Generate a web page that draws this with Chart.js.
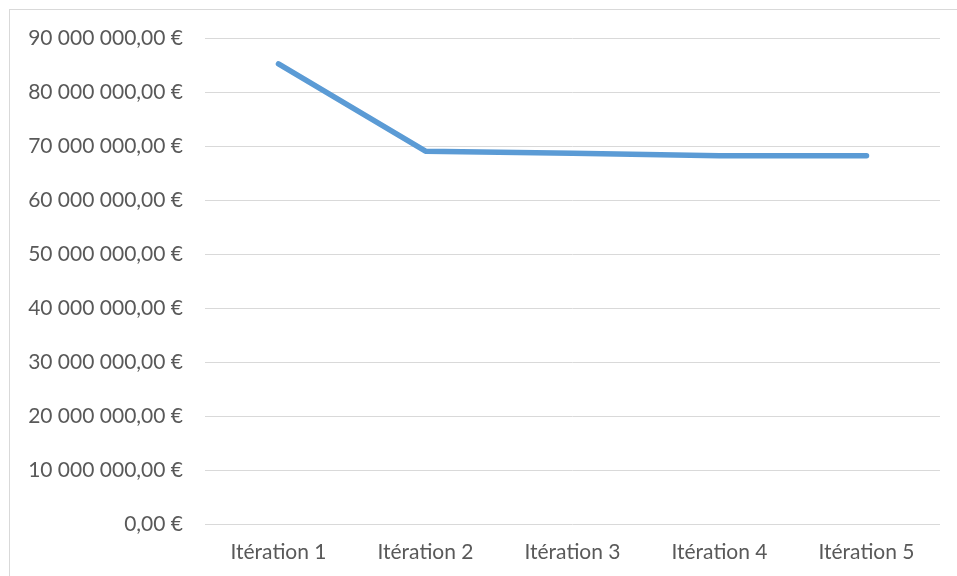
<!DOCTYPE html>
<html lang="fr">
<head>
<meta charset="utf-8">
<title>Coût par itération</title>
<script src="https://cdn.jsdelivr.net/npm/chart.js@4.4.1/dist/chart.umd.min.js"></script>
<style>
    html, body {
        margin: 0;
        padding: 0;
        background: #ffffff;
        overflow: hidden;
    }
    .frame {
        position: absolute;
        left: 9px;
        top: 9px;
        width: 980px;
        height: 600px;
        border: 1px solid #d9d9d9;
    }
    .chart-box {
        position: absolute;
        left: 0;
        top: 0;
        width: 957px;
        height: 576px;
    }
</style>
</head>
<body>

<div class="frame"></div>
<div class="chart-box">
    <canvas id="costChart"></canvas>
</div>

<script>

/* =========================
   DATA
========================= */

const iterations = [
    "Itération 1",
    "Itération 2",
    "Itération 3",
    "Itération 4",
    "Itération 5"
];

const costs = [
    85200000,
    69050000,
    68650000,
    68200000,
    68200000
];

const yMin = 0;
const yMax = 90000000;
const yStep = 10000000;

/* =========================
   FORMAT "90 000 000,00 €"
========================= */

function formatEuro(value){

    const parts = Math.abs(value).toFixed(2).split(".");

    const intPart =
        parts[0].replace(/\B(?=(\d{3})+(?!\d))/g, " ");

    return (value < 0 ? "-" : "") + intPart + "," + parts[1] + " €";

}

/* =========================
   CHART
========================= */

Chart.defaults.font.family = "Lato, 'Open Sans', sans-serif";
Chart.defaults.font.size = 21;
Chart.defaults.color = "#595959";

const ctx = document.getElementById("costChart");

new Chart(ctx, {

    type: "line",

    data: {

        labels: iterations,

        datasets: [{

            label: "Coût",

            data: costs,

            borderColor: "#5b9bd5",
            borderWidth: 5.5,
            borderCapStyle: "round",
            borderJoinStyle: "round",
            tension: 0,
            pointRadius: 0,
            pointHoverRadius: 0,
            fill: false

        }]

    },

    options: {

        responsive: true,
        maintainAspectRatio: false,
        animation: false,

        layout: {
            padding: { left: 0, right: 17, top: 38, bottom: 0 }
        },

        plugins: {
            legend: { display: false },
            tooltip: { enabled: false }
        },

        scales: {

            x: {
                offset: true,
                grid: { display: false, drawTicks: false },
                border: { display: false },
                ticks: {
                    padding: 16,
                    maxRotation: 0
                },
                afterFit(scale){
                    scale.height = 52;
                }
            },

            y: {
                min: yMin,
                max: yMax,
                grid: {
                    color: "#d9d9d9",
                    lineWidth: 1,
                    drawTicks: false
                },
                border: { display: false },
                ticks: {
                    stepSize: yStep,
                    padding: 22,
                    callback: value => formatEuro(value)
                },
                afterFit(scale){
                    scale.width = 205;
                }
            }

        }

    }

});

</script>
</body>
</html>
